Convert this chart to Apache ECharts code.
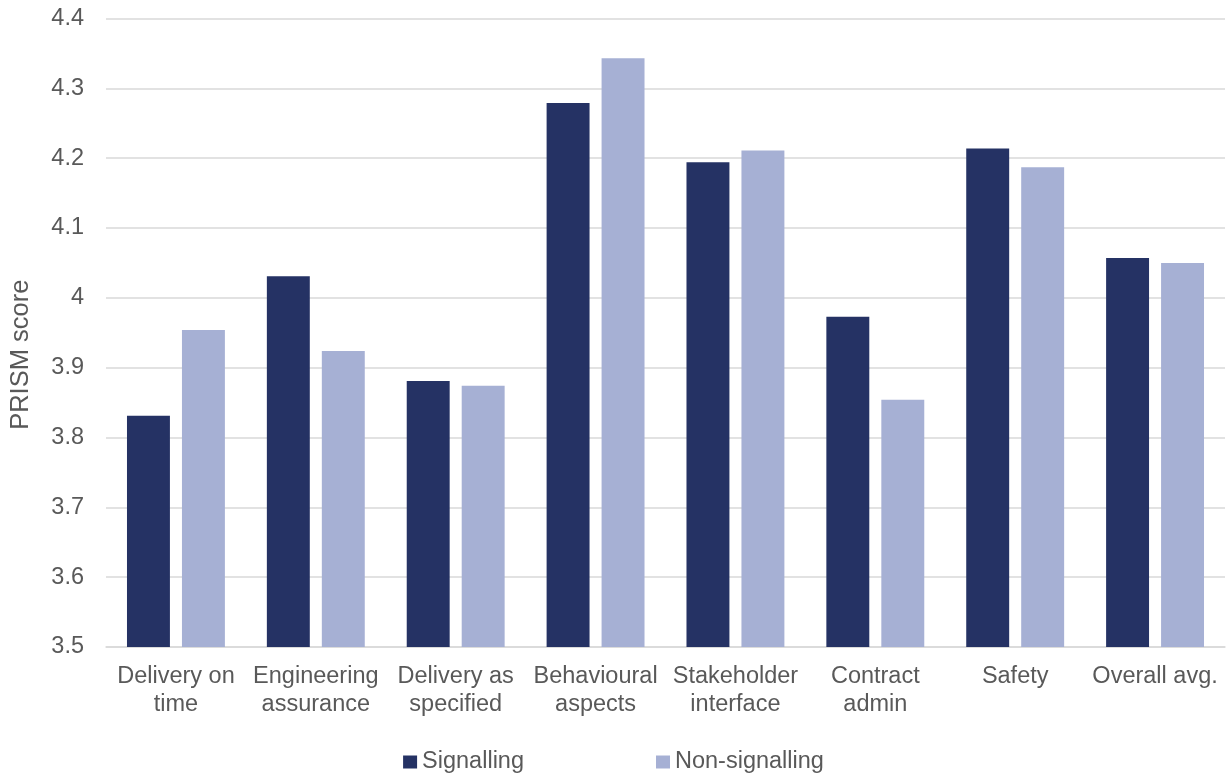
<!DOCTYPE html>
<html>
<head>
<meta charset="utf-8">
<title>PRISM score by category</title>
<script src="https://cdn.jsdelivr.net/npm/echarts@6/dist/echarts.min.js"></script>
<style>
  html, body { margin: 0; padding: 0; background: #fff; }
  #chart { width: 1227px; height: 776px; }
</style>
</head>
<body>
<div id="chart"></div>
<script>
// Categories and average PRISM scores per group
const categories = [
  'Delivery on\ntime',
  'Engineering\nassurance',
  'Delivery as\nspecified',
  'Behavioural\naspects',
  'Stakeholder\ninterface',
  'Contract\nadmin',
  'Safety',
  'Overall avg.'
];
const signalling    = [3.831, 4.031, 3.881, 4.279, 4.194, 3.973, 4.214, 4.057];
const nonSignalling = [3.954, 3.924, 3.874, 4.343, 4.211, 3.854, 4.187, 4.050];

const textColor = '#595959';
const font = 'Liberation Sans, Arial, sans-serif';
const fontSize = 23.5;

const chart = echarts.init(document.getElementById('chart'), null, { renderer: 'canvas' });
chart.setOption({
  animation: false,
  textStyle: { fontFamily: font, color: textColor },
  grid: { left: 105, right: 2, top: 18.5, bottom: 129, containLabel: false },
  legend: {
    bottom: -3,
    left: 'center',
    itemWidth: 14,
    itemHeight: 13,
    itemGap: 132,
    icon: 'rect',
    textStyle: { fontFamily: font, fontSize: fontSize, color: textColor },
    data: ['Signalling', 'Non-signalling']
  },
  xAxis: {
    type: 'category',
    data: categories,
    axisLine: { show: true, lineStyle: { color: '#D9D9D9', width: 1.5 } },
    axisTick: { show: false },
    axisLabel: {
      interval: 0,
      margin: 16,
      fontFamily: font,
      fontSize: fontSize,
      lineHeight: 28,
      color: textColor
    }
  },
  yAxis: {
    type: 'value',
    min: 3.5,
    max: 4.4,
    interval: 0.1,
    name: 'PRISM score',
    nameLocation: 'middle',
    nameGap: 72,
    nameTextStyle: { fontFamily: font, fontSize: 25.5, color: textColor, padding: [0, 44, 0, 0] },
    axisLine: { show: false },
    axisTick: { show: false },
    splitLine: { lineStyle: { color: '#D9D9D9', width: 1.5 } },
    axisLabel: {
      margin: 22,
      fontFamily: font,
      fontSize: fontSize,
      color: textColor,
      formatter: v => String(Math.round(v * 10) / 10)
    }
  },
  series: [
    {
      name: 'Signalling',
      type: 'bar',
      data: signalling,
      barGap: '28%',
      barCategoryGap: '30%',
      itemStyle: { color: '#253264' }
    },
    {
      name: 'Non-signalling',
      type: 'bar',
      data: nonSignalling,
      itemStyle: { color: '#A6B0D4' }
    }
  ]
});
</script>
</body>
</html>
